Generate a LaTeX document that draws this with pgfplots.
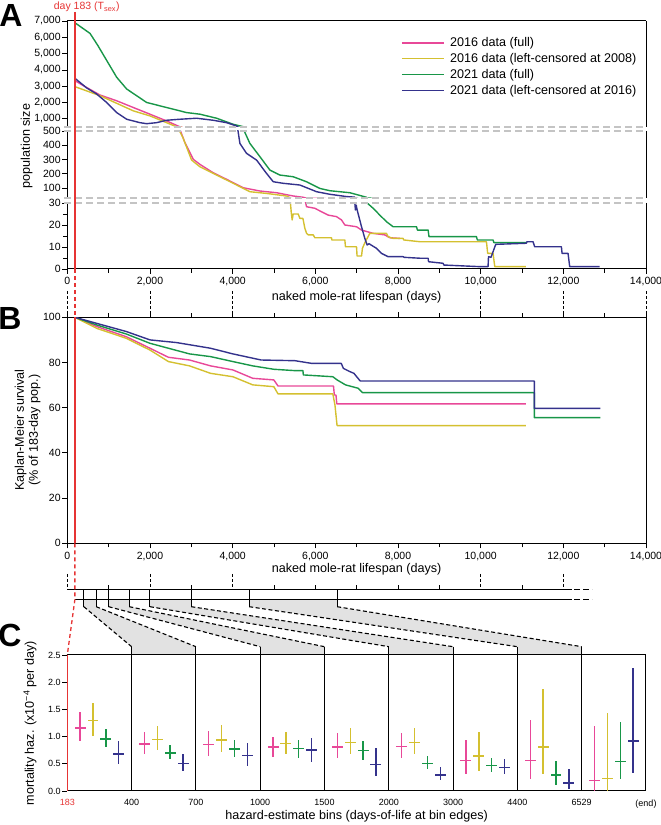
\documentclass[border=0pt]{standalone}
\usepackage{pgfplots}
\pgfplotsset{compat=1.18}
\usepackage{pgfplotstable}
\usepackage{fontspec}
\setmainfont{Liberation Sans}
\definecolor{pinkc}{RGB}{232,72,152}
\definecolor{yellc}{RGB}{212,192,48}
\definecolor{greenc}{RGB}{24,150,72}
\definecolor{bluec}{RGB}{52,50,140}
\definecolor{redc}{RGB}{230,52,52}
\definecolor{breakc}{RGB}{196,196,196}
\definecolor{shadec}{RGB}{226,226,226}

% ---------- Panel A: population size ----------
\pgfplotstableread{
d v
183 3347
387 3037
791 2461
1194 2108
1597 1694
2000 1285
2403 870
2725 510
2765 480
2846 418
3048 301
3208 266
3530 207
3854 161
4255 102
4659 79
5062 67
5465 44
5706 35
5788 28.3
5989 27.6
6151 26
6311 24.5
6513 23.8
6634 22.3
6714 20
6997 19.2
7118 17.7
7399 16.2
7682 15.5
7802 14.2
8044 13.9
}\pinkA
\pgfplotstableread{
d v
183 2975
791 2418
1597 1489
2000 1180
2403 765
2645 510
2725 495
2805 448
3007 296
3208 249
3612 191
4014 133
4417 74
4821 62
5304 44
5384 33
5420 25.3
5440 22.3
5465 25
5586 25
5627 23
5700 23
5747 18.5
5788 16.2
5830 15.5
5950 15.5
5989 14.2
6392 14.2
6400 13.2
6714 13.2
6730 10.1
6997 10.1
7010 5.9
7118 5.9
7140 9.4
7200 12
7319 16.2
7722 16.2
7760 14.7
7883 13.9
8124 13.9
8140 13.2
8528 12.4
10140 12.4
10170 7.1
10300 7.1
10341 1.1
11091 1.1
}\yellA
\pgfplotstableread{
d v
183 6895
550 6238
735 5514
952 4585
1194 3551
1436 2830
1920 2003
2403 1694
2887 1384
3208 1285
3612 1037
4014 666
4255 520
4280 500
4417 413
4659 320
4901 226
5143 191
5465 179
5788 144
6110 97
6352 81
6835 67
7239 35
7254 30
7399 27.6
7560 24.5
7722 21.5
7883 19.2
8448 19.2
8470 17.7
8729 17.7
8750 14.7
9898 14.7
9920 13.2
10300 13.2
10320 12
11107 12
}\greenA
\pgfplotstableread{
d v
183 3490
469 2895
711 2523
952 2003
1194 1384
1436 975
1758 765
1920 703
2161 765
2403 913
2725 975
3128 1037
3530 913
3854 765
4095 560
4130 500
4176 413
4337 343
4579 296
4821 202
4982 144
5224 133
5627 121
6030 74
6352 56
6755 40
6956 36
6956 30
6970 26.8
6990 29
7010 27
7118 19.2
7198 13.9
7254 10.9
7300 11.5
7350 10.9
7480 9.4
7601 7.1
7762 5.6
8124 5.6
8150 5.3
8528 4.9
8729 4.9
8740 3.3
9091 2.6
9110 1.8
9938 1.1
10179 1.1
10190 5.6
10250 5.3
10365 11.2
11107 11.7
11120 12.4
11267 12.4
11308 10.1
11953 10.1
11970 7.1
12114 7.1
12154 1.1
12880 1.1
}\blueA

% ---------- Panel B: Kaplan-Meier ----------
\pgfplotstableread{
d s
183 100
714 95.9
1428 91.4
2000 86.3
2447 82.3
2957 81.1
3467 78.5
4007 76.7
4487 73.0
4996 72.3
5098 69.6
6440 69.6
6460 65.6
6500 65.6
6520 61.7
11094 61.7
}\pinkB
\pgfplotstableread{
d s
183 100
714 95.1
1428 90.7
2000 85.5
2447 80.4
2957 78.5
3467 75.2
4007 73.7
4487 70.1
4996 69.3
5098 66.1
6424 66.1
6475 61.2
6526 52.1
11094 52.1
}\yellB
\pgfplotstableread{
d s
183 100
714 96.6
1428 92.6
2000 88.5
2447 86.3
2957 83.8
3467 82.6
4007 80.4
4487 78.5
4996 77.0
5506 76.4
5700 76.4
5710 74.5
6424 73.7
6526 72.3
6730 70.1
7036 68.6
7138 66.7
11298 66.7
11298 55.6
12899 55.6
}\greenB
\pgfplotstableread{
d s
183 100
714 97.3
1428 93.7
2000 90.0
2651 88.8
3467 86.3
4007 83.8
4690 81.1
5506 80.8
5914 79.6
6628 79.6
6679 77.4
6832 76.0
6934 75.2
7087 71.8
11298 71.8
11298 59.7
12899 59.7
}\blueB

% ---------- Panel C: hazard estimates ----------
\pgfplotstableread{
x y yp ym
0.2 1.155 0.301 0.235
1.2 0.866 0.221 0.190
2.2 0.854 0.246 0.214
3.2 0.810 0.190 0.177
4.2 0.810 0.260 0.196
5.2 0.823 0.252 0.209
6.2 0.565 0.381 0.245
7.2 0.565 0.731 0.345
8.2 0.190 1.000 0.190
}\pinkC
\pgfplotstableread{
x y yp ym
0.4 1.296 0.324 0.286
1.4 0.952 0.248 0.202
2.4 0.940 0.270 0.220
3.4 0.872 0.218 0.192
4.4 0.890 0.259 0.214
5.4 0.890 0.277 0.214
6.4 0.645 0.435 0.275
7.4 0.810 1.057 0.490
8.4 0.227 1.210 0.227
}\yellC
\pgfplotstableread{
x y yp ym
0.6 0.958 0.182 0.158
1.6 0.700 0.154 0.110
2.6 0.774 0.166 0.154
3.6 0.786 0.148 0.172
4.6 0.743 0.177 0.166
5.6 0.510 0.140 0.105
6.6 0.467 0.141 0.111
7.6 0.295 0.252 0.178
8.6 0.547 0.713 0.332
}\greenC
\pgfplotstableread{
x y yp ym
0.8 0.680 0.235 0.180
1.8 0.510 0.178 0.150
2.8 0.657 0.233 0.190
3.8 0.750 0.230 0.210
4.8 0.485 0.301 0.202
5.8 0.295 0.153 0.098
6.8 0.430 0.154 0.123
7.8 0.147 0.263 0.117
8.8 0.920 1.340 0.590
}\blueC

\pgfplotsset{
  base/.style={scale only axis, width=578.7pt, xmin=0, xmax=14000, clip=true,
    axis line style={draw=none},
    tick style={line width=0.8pt, black}, tick align=outside,
    major tick length=5pt, minor tick length=4pt,
    ticklabel style={font=\fontsize{10.5}{12}\selectfont},
    yticklabel style={inner sep=1.5pt},
    scaled x ticks=false, scaled y ticks=false,
    /pgf/number format/assume math mode=true,
    /pgf/number format/1000 sep={,},
    xtick pos=left, ytick pos=left,
  },
  cur/.style={line width=1.4pt, line join=round},
  hz/.style={draw=none, mark=none,
    error bars/.cd, x dir=both, x fixed=0.085, y dir=both, y explicit,
    error mark=none, error bar style={draw=#1, solid, line width=1.4pt}},
}

\begin{document}
\begin{tikzpicture}[x=1pt,y=1pt]
\useasboundingbox (0,0) rectangle (661,825);

% shaded links between timeline bins and panel C
\foreach \a/\b/\ka/\kb in {400/700/1/2, 1000/1500/3/4, 2000/3000/5/6, 4400/6529/7/8}
  \fill[shadec] ({67.3+0.041336*\a},225.3) -- ({67.3+0.041336*\b},225.3) -- ({67.3+0.041336*\b},218.3)
     -- ({67.3+64.3*\kb},178.3) -- ({67.3+64.3*\kb},170) -- ({67.3+64.3*\ka},170)
     -- ({67.3+64.3*\ka},178.3) -- ({67.3+0.041336*\a},218.3) -- cycle;

% ---- A1 (500 - 7000) ----
\begin{axis}[base, at={(67.3pt,698pt)}, anchor=south west, height=106pt,
  ymin=500, ymax=7000, ytick={1000,2000,...,7000}, xtick=\empty,
  legend style={draw=none, fill=none, at={(0.5714,0.879)}, anchor=north west,
    font=\fontsize{12.6}{14}\selectfont, row sep=1.1pt, column sep=4pt,
    nodes={inner sep=1.5pt, text height=9.2pt, text depth=2.5pt}},
  legend cell align=left,
  legend image code/.code={\draw[#1, line width=1.4pt] (0pt,0.5pt) -- (42pt,0.5pt);}]
\addplot[cur, pinkc] table[x=d,y=v] {\pinkA};
\addlegendentry{2016 data (full)}
\addplot[cur, yellc] table[x=d,y=v] {\yellA};
\addlegendentry{2016 data (left-censored at 2008)}
\addplot[cur, greenc] table[x=d,y=v] {\greenA};
\addlegendentry{2021 data (full)}
\addplot[cur, bluec] table[x=d,y=v] {\blueA};
\addlegendentry{2021 data (left-censored at 2016)}
\end{axis}

% ---- A2 (30 - 500) ----
\begin{axis}[base, at={(67.3pt,627pt)}, anchor=south west, height=67pt,
  ymin=30, ymax=500, ytick={100,200,...,500}, xtick=\empty]
\addplot[cur, pinkc] table[x=d,y=v] {\pinkA};
\addplot[cur, yellc] table[x=d,y=v] {\yellA};
\addplot[cur, greenc] table[x=d,y=v] {\greenA};
\addplot[cur, bluec] table[x=d,y=v] {\blueA};
\end{axis}

% ---- A3 (0 - 30) ----
\begin{axis}[base, at={(67.3pt,556pt)}, anchor=south west, height=66pt,
  ymin=0, ymax=30, ytick={0,10,20,30}, minor ytick={5,15,25},
  xtick={0,2000,...,14000}, minor xtick={1000,3000,...,13000},
  restrict y to domain=-5:200]
\addplot[cur, pinkc] table[x=d,y=v] {\pinkA};
\addplot[cur, yellc] table[x=d,y=v] {\yellA};
\addplot[cur, greenc] table[x=d,y=v] {\greenA};
\addplot[cur, bluec] table[x=d,y=v] {\blueA};
\end{axis}

% ---- B ----
\begin{axis}[base, at={(67.3pt,281.7pt)}, anchor=south west, height=226pt,
  axis line style={draw=black, line width=1pt},
  ymin=0, ymax=100, ytick={0,20,...,100}, xtick pos=both,
  xtick={0,2000,...,14000}, minor xtick={1000,3000,...,13000},
  xticklabel pos=left]
\addplot[cur, pinkc] table[x=d,y=s] {\pinkB};
\addplot[cur, yellc] table[x=d,y=s] {\yellB};
\addplot[cur, greenc] table[x=d,y=s] {\greenB};
\addplot[cur, bluec] table[x=d,y=s] {\blueB};
\end{axis}

% ---- C ----
\begin{axis}[base, at={(67.3pt,34pt)}, anchor=south west, height=136pt,
  axis line style={draw=black, line width=1pt},
  xmin=0, xmax=9, ymin=0, ymax=2.5, clip=false,
  ytick={0,0.5,...,2.5}, xtick={0,...,9},
  xticklabels={\textcolor{redc}{183},400,700,1000,1500,2000,3000,4400,6529,(end)},
  xtick style={draw=none},
  ticklabel style={font=\fontsize{9}{10}\selectfont},
  yticklabel style={/pgf/number format/.cd, fixed, fixed zerofill, precision=1}]
\addplot[hz=pinkc] table[x=x,y=y,y error plus=yp,y error minus=ym] {\pinkC};
\addplot[hz=yellc] table[x=x,y=y,y error plus=yp,y error minus=ym] {\yellC};
\addplot[hz=greenc] table[x=x,y=y,y error plus=yp,y error minus=ym] {\greenC};
\addplot[hz=bluec] table[x=x,y=y,y error plus=yp,y error minus=ym] {\blueC};
\end{axis}

% ---- A spines and axis breaks ----
\begin{scope}[line width=1pt]
\draw (67.3,804) -- (646,804);
\draw (67.3,556) -- (646,556);
\foreach \xx in {67.3,646} {
  \draw (\xx,804) -- (\xx,698);
  \draw (\xx,694) -- (\xx,627);
  \draw (\xx,622) -- (\xx,556);
}
\end{scope}
\foreach \yy in {698,694,627,622}
  \draw[breakc, line width=1.3pt, dash pattern=on 7pt off 4pt] (64,\yy) -- (646,\yy);

% ---- dashed connectors between label rows ----
\foreach \d in {0,2000,4000,10000,12000,14000}
  \draw[line width=0.8pt, dash pattern=on 3pt off 2pt] ({67.3+0.041336*\d},534) -- ({67.3+0.041336*\d},508);
\foreach \d in {0,2000,4000,10000,12000}
  \draw[line width=0.8pt, dash pattern=on 3pt off 2pt] ({67.3+0.041336*\d},251) -- ({67.3+0.041336*\d},235.3);

% ---- timeline lines ----
\draw[line width=1.2pt] (67.3,235.3) -- (571.6,235.3);
\draw[line width=1.2pt] (74.86,225.3) -- (571.6,225.3);
\draw[line width=1.2pt, dash pattern=on 6pt off 3pt] (574,235.3) -- (592,235.3);
\draw[line width=1.2pt, dash pattern=on 6pt off 3pt] (574,225.3) -- (592,225.3);
\foreach \d in {1000,3000,5000,6000,7000,8000,9000,11000}
  \draw[line width=0.9pt] ({67.3+0.041336*\d},235.3) -- ++(0,5);
\foreach \d/\k in {400/1,700/2,1000/3,1500/4,2000/5,3000/6,4400/7,6529/8} {
  \draw[line width=1pt] ({67.3+0.041336*\d},235.3) -- ({67.3+0.041336*\d},218.3);
  \draw[line width=1.1pt, dash pattern=on 4pt off 2.5pt] ({67.3+0.041336*\d},218.3) -- ({67.3+64.3*\k},178.3);
  \draw[line width=1pt] ({67.3+64.3*\k},178.3) -- ({67.3+64.3*\k},34);
}

% ---- red T_sex line ----
\begin{scope}[redc, line width=1.3pt]
\draw (74.86,813) -- (74.86,556);
\draw[dash pattern=on 4pt off 3pt] (74.86,556) -- (74.86,508);
\draw (74.86,508) -- (74.86,281.7);
\draw[dash pattern=on 4pt off 3pt] (74.86,281.7) -- (74.86,225.3) -- (67.3,170);
\draw (67.3,170) -- (67.3,34);
\end{scope}
\node[text=redc, font=\fontsize{10.5}{12}\selectfont] at (86.7,818) {day 183 (T\textsubscript{sex})};

% ---- titles ----
\node[rotate=90, font=\fontsize{12.6}{14}\selectfont] at (26.5,679) {population size};
\node[font=\fontsize{12.6}{14}\selectfont] at (356.6,527.5) {naked mole-rat lifespan (days)};
\node[rotate=90, font=\fontsize{12.6}{14}\selectfont, align=center] at (27.5,395) {Kaplan-Meier survival\\(\% of 183-day pop.)};
\node[font=\fontsize{12.6}{14}\selectfont] at (356.6,255.5) {naked mole-rat lifespan (days)};
\node[rotate=90, font=\fontsize{12.6}{14}\selectfont] at (30,102) {mortality haz. (x10\textsuperscript{−4} per day)};
\node[font=\fontsize{12.6}{14}\selectfont] at (356.6,8.3) {hazard-estimate bins (days-of-life at bin edges)};

% ---- panel letters ----
\node[font=\fontsize{32}{32}\selectfont\bfseries] at (11,810) {A};
\node[font=\fontsize{32}{32}\selectfont\bfseries] at (10,507) {B};
\node[font=\fontsize{32}{32}\selectfont\bfseries] at (10,190) {C};
\end{tikzpicture}
\end{document}
